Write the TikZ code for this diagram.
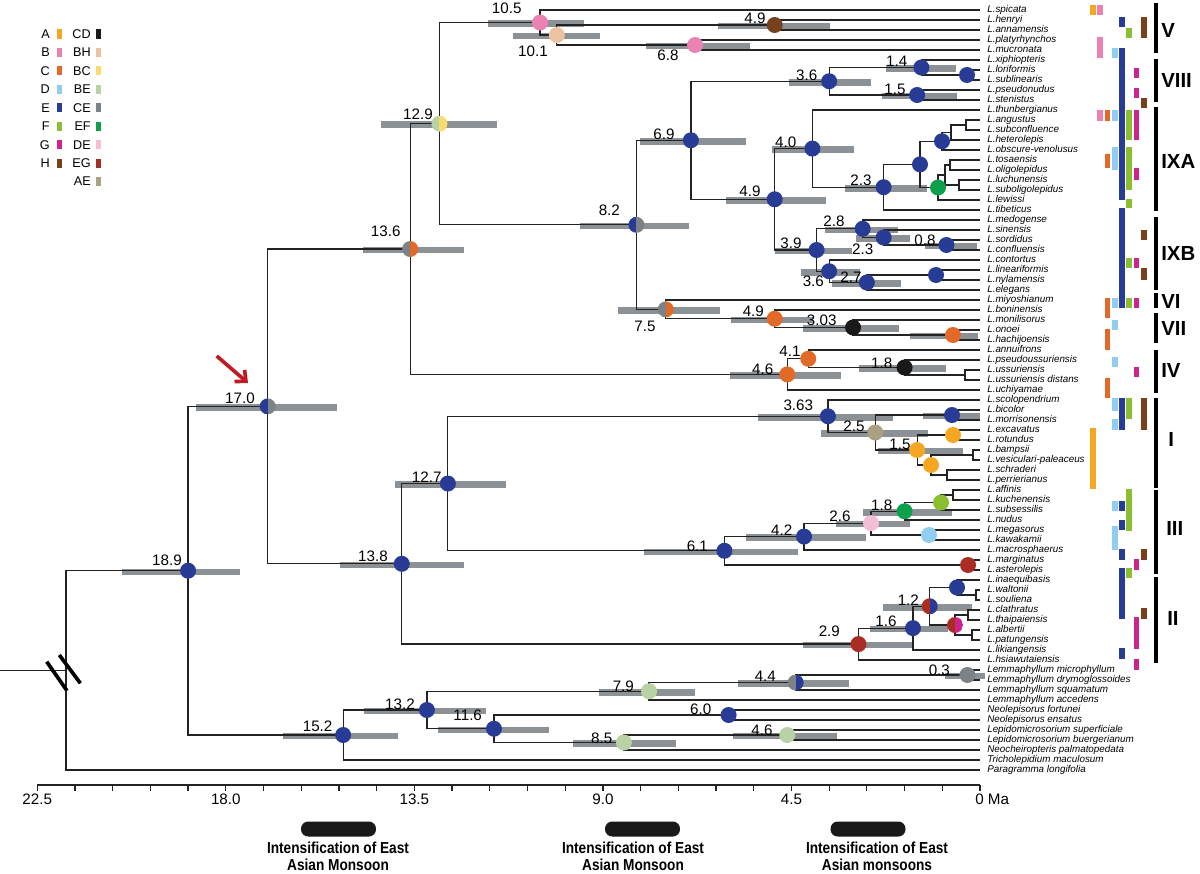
\documentclass[tikz,border=0pt]{standalone}
\usepackage{fontspec}
\setmainfont{Liberation Sans}
\newfontfamily\narrowsans[FakeStretch=0.86]{Liberation Sans}
\usetikzlibrary{arrows.meta}
\definecolor{areaA}{RGB}{245,166,35}
\definecolor{areaB}{RGB}{235,130,180}
\definecolor{areaC}{RGB}{226,105,40}
\definecolor{areaD}{RGB}{145,205,240}
\definecolor{areaE}{RGB}{40,60,150}
\definecolor{areaF}{RGB}{140,190,50}
\definecolor{areaG}{RGB}{205,35,140}
\definecolor{areaH}{RGB}{120,65,30}
\definecolor{areaCD}{RGB}{25,25,25}
\definecolor{areaBH}{RGB}{235,195,160}
\definecolor{areaBC}{RGB}{250,220,110}
\definecolor{areaBE}{RGB}{185,210,165}
\definecolor{areaCE}{RGB}{125,130,135}
\definecolor{areaEF}{RGB}{15,160,75}
\definecolor{areaDE}{RGB}{245,190,215}
\definecolor{areaEG}{RGB}{170,45,35}
\definecolor{areaAE}{RGB}{170,160,130}
\definecolor{hpdgrey}{RGB}{140,145,150}
\definecolor{treeline}{RGB}{35,35,35}
\definecolor{arrowred}{RGB}{190,30,35}
\tikzset{
  branch/.style={line width=0.85pt, color=treeline},
  hpd/.style={fill=hpdgrey},
  anc/.style={circle, fill=#1, minimum size=0.4cm, inner sep=0pt},
  ancsplit/.style 2 args={circle, minimum size=0.4cm, inner sep=0pt,
    path picture={\fill[#1] (path picture bounding box.south west) rectangle (path picture bounding box.north);
      \fill[#2] (path picture bounding box.south) rectangle (path picture bounding box.north east);}},
  agelabel/.style={inner sep=0pt, font=\fontsize{10.8}{12}\selectfont},
  taxon/.style={anchor=base west, inner sep=0pt, font=\fontsize{7}{8}\selectfont\itshape},
  clade/.style={anchor=west, inner sep=0pt, font=\fontsize{14.5}{16}\selectfont\bfseries},
  legendtext/.style={anchor=east, inner sep=0pt, font=\fontsize{9}{10}\selectfont},
  ticklabel/.style={inner sep=0pt, font=\fontsize{10.8}{12}\selectfont},
  monsoonbar/.style={fill=black!90, rounded corners=0.18cm, minimum width=1.875cm, minimum height=0.375cm, inner sep=0pt},
  monsoontext/.style={align=center, inner sep=0pt, font=\narrowsans\fontsize{11.3}{12}\selectfont\bfseries},
  redarrow/.style={-{Straight Barb[length=6pt,width=11pt]}, line width=2.6pt, color=arrowred},
  breakmark/.style={line width=2.6pt, color=black}
}

\begin{document}
\begin{tikzpicture}[x=0.025cm, y=-0.025cm]
  \useasboundingbox (0,0) rectangle (1200,873);

  % tips and taxon names
  \foreach \name [count=\i] in {L.spicata, L.henryi, L.annamensis, L.platyrhynchos, L.mucronata,
      L.xiphiopteris, L.loriformis, L.sublinearis, L.pseudonudus, L.stenistus, L.thunbergianus,
      L.angustus, L.subconfluence, L.heterolepis, L.obscure-venolusus, L.tosaensis, L.oligolepidus,
      L.luchunensis, L.suboligolepidus, L.lewissi, L.tibeticus, L.medogense, L.sinensis, L.sordidus,
      L.confluensis, L.contortus, L.lineariformis, L.nylamensis, L.elegans, L.miyoshianum,
      L.boninensis, L.monilisorus, L.onoei, L.hachijoensis, L.annuifrons, L.pseudoussuriensis,
      L.ussuriensis, L.ussuriensis distans, L.uchiyamae, L.scolopendrium, L.bicolor,
      L.morrisonensis, L.excavatus, L.rotundus, L.bampsii, L.vesiculari-paleaceus, L.schraderi,
      L.perrierianus, L.affinis, L.kuchenensis, L.subsessilis, L.nudus, L.megasorus, L.kawakamii,
      L.macrosphaerus, L.marginatus, L.asterolepis, L.inaequibasis, L.waltonii, L.souliena,
      L.clathratus, L.thaipaiensis, L.albertii, L.patungensis, L.likiangensis, L.hsiawutaiensis,
      Lemmaphyllum microphyllum, Lemmaphyllum drymoglossoides, Lemmaphyllum squamatum,
      Lemmaphyllum accedens, Neolepisorus fortunei, Neolepisorus ensatus,
      Lepidomicrosorium superficiale, Lepidomicrosorium buergerianum,
      Neocheiropteris palmatopedata, Tricholepidium maculosum, Paragramma longifolia}
  {
    \coordinate (t\i) at (980,{10*\i});
    \node[taxon] (tx\i) at (987,{10*\i+2.5}) {\name};
  }

  % dated nodes: name/age/y
  \foreach \n/\age/\y in {n189/18.9/570.7, n170/17.0/406.4, n152/15.2/735, n136/13.6/249.02,
      n138/13.8/563.79, n132/13.2/710, n129/12.9/123.66, n127/12.7/483.52, n116/11.6/728.75,
      nV4/10.5/22.5, nV3/10.1/35, n85/8.5/742.5, n82/8.2/224.82, n79/7.9/691.25, n75/7.5/309.38,
      n69/6.9/140.27, nV2/6.8/45, n61/6.1/550.78, n60/6.0/715, nV1/4.9/25, n49a/4.9/199.3,
      n49b/4.9/318.75, n46a/4.6/374.38, n46b/4.6/735, n44/4.4/682.5, n42/4.2/536.56,
      n41/4.1/358.75, n40/4.0/148.59, n39/3.9/250, n363/3.63/416.25, n36/3.6/81.25,
      n36b/3.6/271.25, n303/3.03/327.5, n29/2.9/644.06, n28/2.8/228.75, n27/2.7/282.5,
      n26/2.6/523.13, n25/2.5/432.5, n23a/2.3/187.19, n23b/2.3/237.5, n18a/1.8/367.5,
      n18b/1.8/511.25, n16/1.6/628.13, n15/1.5/95, n15b/1.5/450, n14/1.4/67.5, n12/1.2/606.25,
      n08/0.8/245, n03/0.3/675}
    \coordinate (\n) at ({980-41.9*\age},\y);

  % shallow nodes
  \foreach \n/\x/\y in {n78/967/75, nA1213/966/125, nA14/951/132.5, nA/942/141.25,
      nE1617/950/165, nE1819/959/185, nEX/945/175, nE/938/187.5, nD/920/164.38, n2728/936/275,
      nOH/953/335, nUss/965/375, nBM/952/415, nER/953/435, nBV/973/455, nSP/947/475,
      nA4/931/465, nAK/953/495, nF/941/502.5, nMK/929/535, nMA/968/565, nWS/976/595,
      nIn/957/587.5, nCT/968/615, nAP/972/635, nG/955/625, root/66/670.35}
    \coordinate (\n) at (\x,\y);
  \coordinate (stub) at (0,670.35);

  % 95% HPD bars
  \foreach \y/\xa/\xb in {570.7/122/240, 406.4/196/337, 735/283/398, 249/363/464,
      563.8/340/464, 710/364/486, 123.7/381/497, 483.5/395/506, 728.75/438/549, 22.5/488/584,
      35/513/600, 742.5/573/676, 224.8/580/689, 691.25/599/695, 309.4/618/720, 140.3/640/746,
      45/646/750, 550.8/644/798, 25/718/830, 199.3/726/826, 318.75/731/813, 374.4/730/841,
      735/733/837, 682.5/738/849, 536.6/746/866, 148.6/772/854, 250/775/852, 416.25/758/893,
      81.25/789/871, 271.25/801/860, 327.5/803/899, 644/803/913, 228.75/825/898, 282.5/832/901,
      523.1/836/910, 432.5/821/928, 187.2/845/927, 237.5/856/910, 367.5/859/946, 511.25/863/952,
      628.1/870/948, 95/882/957, 450/878/963, 67.5/886/956, 606.25/883/972, 245/925/977,
      675/945/985, 335/910/978, 415/923/980}
    \fill[hpd] (\xa,\y-2.2) rectangle (\xb,\y+4.3);

  % branches
  \foreach \p/\ch in {root/n189, root/t77, n189/n170, n189/n152, n170/n136, n170/n138,
      n136/n129, n136/n46a, n129/nV4, n129/n82, nV4/t1, nV4/nV3, nV3/nV1, nV3/nV2, nV1/t2, nV1/t3,
      nV2/t4, nV2/t5, n82/n69, n82/n75, n69/n36, n69/n49a, n36/n14, n36/n15, n14/t6, n14/n78,
      n78/t7, n78/t8, n15/t9, n15/t10, n49a/n40, n49a/n39, n40/t11, n40/n23a, n23a/nD, n23a/t21,
      nD/nA, nD/nE, nA/nA14, nA/t15, nA14/nA1213, nA14/t14, nA1213/t12, nA1213/t13, nE/nEX,
      nE/t20, nEX/nE1617, nEX/nE1819, nE1617/t16, nE1617/t17, nE1819/t18, nE1819/t19,
      n39/n28, n39/n36b, n28/t22, n28/n23b, n23b/t23, n23b/n08, n08/t24, n08/t25, n36b/t26,
      n36b/n27, n27/n2728, n27/t29, n2728/t27, n2728/t28, n75/t30, n75/n49b, n49b/t31,
      n49b/n303, n303/t32, n303/nOH, nOH/t33, nOH/t34, n46a/n41, n46a/t39, n41/t35, n41/n18a,
      n18a/t36, n18a/nUss, nUss/t37, nUss/t38, n138/n127, n138/n29, n127/n363, n127/n61,
      n363/t40, n363/n25, n25/nBM, n25/n15b, nBM/t41, nBM/t42, n15b/nER, n15b/nA4, nER/t43,
      nER/t44, nA4/nBV, nA4/nSP, nBV/t45, nBV/t46, nSP/t47, nSP/t48, n61/n42, n61/nMA, n42/n26,
      n42/t55, n26/n18b, n26/nMK, n18b/nF, n18b/t52, nF/nAK, nF/t51, nAK/t49, nAK/t50,
      nMK/t53, nMK/t54, nMA/t56, nMA/t57, n29/n16, n29/t66, n16/n12, n16/t65, n12/nIn, n12/nG,
      nIn/t58, nIn/nWS, nWS/t59, nWS/t60, nG/nCT, nG/nAP, nCT/t61, nCT/t62, nAP/t63, nAP/t64,
      n152/n132, n152/t76, n132/n79, n132/n116, n79/n44, n79/t70, n44/n03, n44/t69, n03/t67,
      n03/t68, n116/n60, n116/n85, n60/t71, n60/t72, n85/n46b, n85/t75, n46b/t73, n46b/t74}
    \draw[branch] (\p) |- (\ch);
  \draw[branch] (stub) -- (root);
  \draw[breakmark] (46.7,661.7) -- (67,690.7);
  \draw[breakmark] (59.3,655) -- (80.4,683.3);

  % ancestral areas
  \foreach \n/\col in {n189/areaE, n152/areaE, n132/areaE, n116/areaE, nV4/areaB, nV3/areaBH,
      nV1/areaH, nV2/areaB, n69/areaE, n36/areaE, n14/areaE, n78/areaE, n15/areaE, n49a/areaE,
      n40/areaE, n23a/areaE, nD/areaE, nA/areaE, nE/areaEF, n39/areaE, n28/areaE, n23b/areaE,
      n08/areaE, n36b/areaE, n27/areaE, n2728/areaE, n49b/areaC, n303/areaCD, nOH/areaC,
      n46a/areaC, n41/areaC, n18a/areaCD, n138/areaE, n127/areaE, n363/areaE, nBM/areaE,
      n25/areaAE, n15b/areaA, nER/areaA, nA4/areaA, n61/areaE, n42/areaE, n26/areaDE,
      n18b/areaEF, nF/areaF, nMK/areaD, nMA/areaEG, n29/areaEG, n16/areaE, nIn/areaE,
      n03/areaCE, n79/areaBE, n60/areaE, n85/areaBE, n46b/areaBE}
    \node[anc=\col] (d\n) at (\n) {};
  \node[ancsplit={areaE}{areaCE}] (dn170) at (n170) {};
  \node[ancsplit={areaCE}{areaC}] (dn136) at (n136) {};
  \node[ancsplit={areaBE}{areaBC}] (dn129) at (n129) {};
  \node[ancsplit={areaE}{areaCE}] (dn82) at (n82) {};
  \node[ancsplit={areaCE}{areaC}] (dn75) at (n75) {};
  \node[ancsplit={areaEG}{areaE}] (dn12) at (n12) {};
  \node[ancsplit={areaEG}{areaG}] (dnG) at (nG) {};
  \node[ancsplit={areaCE}{areaE}] (dn44) at (n44) {};

  % node ages
  \foreach \n/\x/\y/\lab in {n189/167/560/18.9, n170/240/398.3/17.0, n152/317.6/726/15.2,
      n136/385.7/231/13.6, n138/373/556/13.8, n132/400/704/13.2, n129/418/114.3/12.9,
      n127/426.7/476.7/12.7, n116/467.7/715/11.6, nV4/506.7/8.3/10.5, nV3/533/51.7/10.1,
      n85/601.7/738.3/8.5, n82/609.3/210/8.2, n79/623.3/686/7.9, n75/645/326.7/7.5,
      n69/664/134/6.9, nV2/668/55/6.8, n61/697.3/546.7/6.1, n60/700.7/709.3/6.0,
      nV1/755/18.3/4.9, n49a/750/191.7/4.9, n49b/753.3/311.7/4.9, n46a/762.7/369.3/4.6,
      n46b/762/730/4.6, n44/765.3/676/4.4, n42/781.7/530/4.2, n41/790/351.7/4.1,
      n40/785.7/142.3/4.0, n39/791/243.3/3.9, n363/798.3/405.7/3.63, n36/806.7/75/3.6,
      n36b/813.3/281.7/3.6, n303/821.7/320.7/3.03, n29/829.3/631.7/2.9, n28/834/221.7/2.8,
      n27/851/277.3/2.7, n26/840/516.7/2.6, n25/854/426.7/2.5, n23a/861/180/2.3,
      n23b/862.7/249.3/2.3, n18a/881.7/363.3/1.8, n18b/881.7/505.7/1.8, n16/886/621.7/1.6,
      n15/895/89.3/1.5, n15b/900/444/1.5, n14/896.7/61.7/1.4, n12/908.3/600/1.2,
      n08/925/240/0.8, n03/939.3/670/0.3}
    \node[agelabel] (l\n) at (\x,\y) {\lab};

  % arrow to the crown node
  \coordinate (arrowtail) at (216.7,356);
  \coordinate (arrowtip) at (248,383);
  \draw[redarrow] (arrowtail) -- (arrowtip);

  % area distributions
  \foreach \col/\k/\ya/\yb in {areaA/1/5/15, areaB/2/5/15, areaE/5/17/27, areaH/8/17/38,
      areaF/6/28/38, areaB/2/37/58, areaD/4/48/58, areaE/5/48/200, areaG/7/68/78,
      areaG/7/88/98, areaH/8/98/108, areaB/2/110/121, areaC/3/110/121, areaD/4/110/121,
      areaF/6/110/140, areaG/7/110/140, areaC/3/154/168, areaD/4/147/170, areaF/6/147/190,
      areaG/7/168/180, areaF/6/199/208, areaE/5/208/308, areaH/8/230/240, areaF/6/258/268,
      areaG/7/258/268, areaH/8/268/280, areaC/3/298/318, areaD/4/298/308, areaF/6/298/308,
      areaG/7/298/308, areaD/4/320/330, areaC/3/329/350, areaD/4/357/367, areaG/7/367/377,
      areaC/3/378/398, areaD/4/398/411, areaE/5/398/430, areaF/6/398/419, areaH/8/398/430,
      areaD/4/419/430, areaA/1/428/489, areaF/6/489/531, areaD/4/501/511, areaE/5/501/511,
      areaE/5/520/530, areaD/4/526/550, areaE/5/549/560, areaH/8/549/560, areaG/7/559/570,
      areaE/5/568/619, areaF/6/568/578, areaH/8/608/619, areaG/7/617/649, areaE/5/648/659,
      areaG/7/659/670}
    \fill[\col] ({1093+7.25*(\k-1)-2.8},\ya) rectangle ({1093+7.25*(\k-1)+2.8},\yb);

  % clades
  \foreach \lab/\ya/\yb/\x/\y in {V/3/53/1161/30, VIII/59/102/1161/80, IXA/107/211/1161/161,
      IXB/217/290/1161/253, VI/293/308/1161/301, VII/313/343/1161/328, IV/350/393/1161/370,
      I/398/488/1168/439, III/490/574/1166/528, II/577/663/1167/618}
  {
    \fill (1153.5,\ya) rectangle (1157.5,\yb);
    \node[clade] (cl\lab) at (\x,\y) {\lab};
  }

  % legend
  \foreach \lab/\col [count=\j from 0] in {A/areaA, B/areaB, C/areaC, D/areaD, E/areaE,
      F/areaF, G/areaG, H/areaH}
  {
    \node[legendtext] (leg\lab) at (50,{34+18.45*\j}) {\lab};
    \fill[\col] (56.5,{34+18.45*\j-4.6}) rectangle (61.5,{34+18.45*\j+4.6});
  }
  \foreach \lab/\col [count=\j from 0] in {CD/areaCD, BH/areaBH, BC/areaBC, BE/areaBE,
      CE/areaCE, EF/areaEF, DE/areaDE, EG/areaEG, AE/areaAE}
  {
    \node[legendtext] (leg\lab) at (91,{34+18.45*\j}) {\lab};
    \fill[\col] (96,{34+18.45*\j-4.6}) rectangle (101,{34+18.45*\j+4.6});
  }

  % time axis
  \coordinate (axL) at (37.25,785);
  \coordinate (axR) at (980,785);
  \draw[branch] (axL) -- (axR);
  \foreach \k in {0,...,25}
    \draw[branch] ({980-37.71*\k},785) -- ++(0,6);
  \foreach \v [count=\j] in {22.5, 18.0, 13.5, 9.0, 4.5}
    \node[ticklabel] (tk\j) at ({980-41.9*\v},799) {\v};
  \node[ticklabel, anchor=west] (tk0) at (975,799) {0 Ma};

  % monsoon events
  \node[monsoonbar] (m1) at (338.5,829) {};
  \node[monsoonbar] (m2) at (642.5,829) {};
  \node[monsoonbar] (m3) at (868,829) {};
  \node[monsoontext] (mt1) at (338,856.5) {Intensification of East\\Asian Monsoon};
  \node[monsoontext] (mt2) at (633,856.5) {Intensification of East\\Asian Monsoon};
  \node[monsoontext] (mt3) at (877,856.5) {Intensification of East\\Asian monsoons};
\end{tikzpicture}
\end{document}
